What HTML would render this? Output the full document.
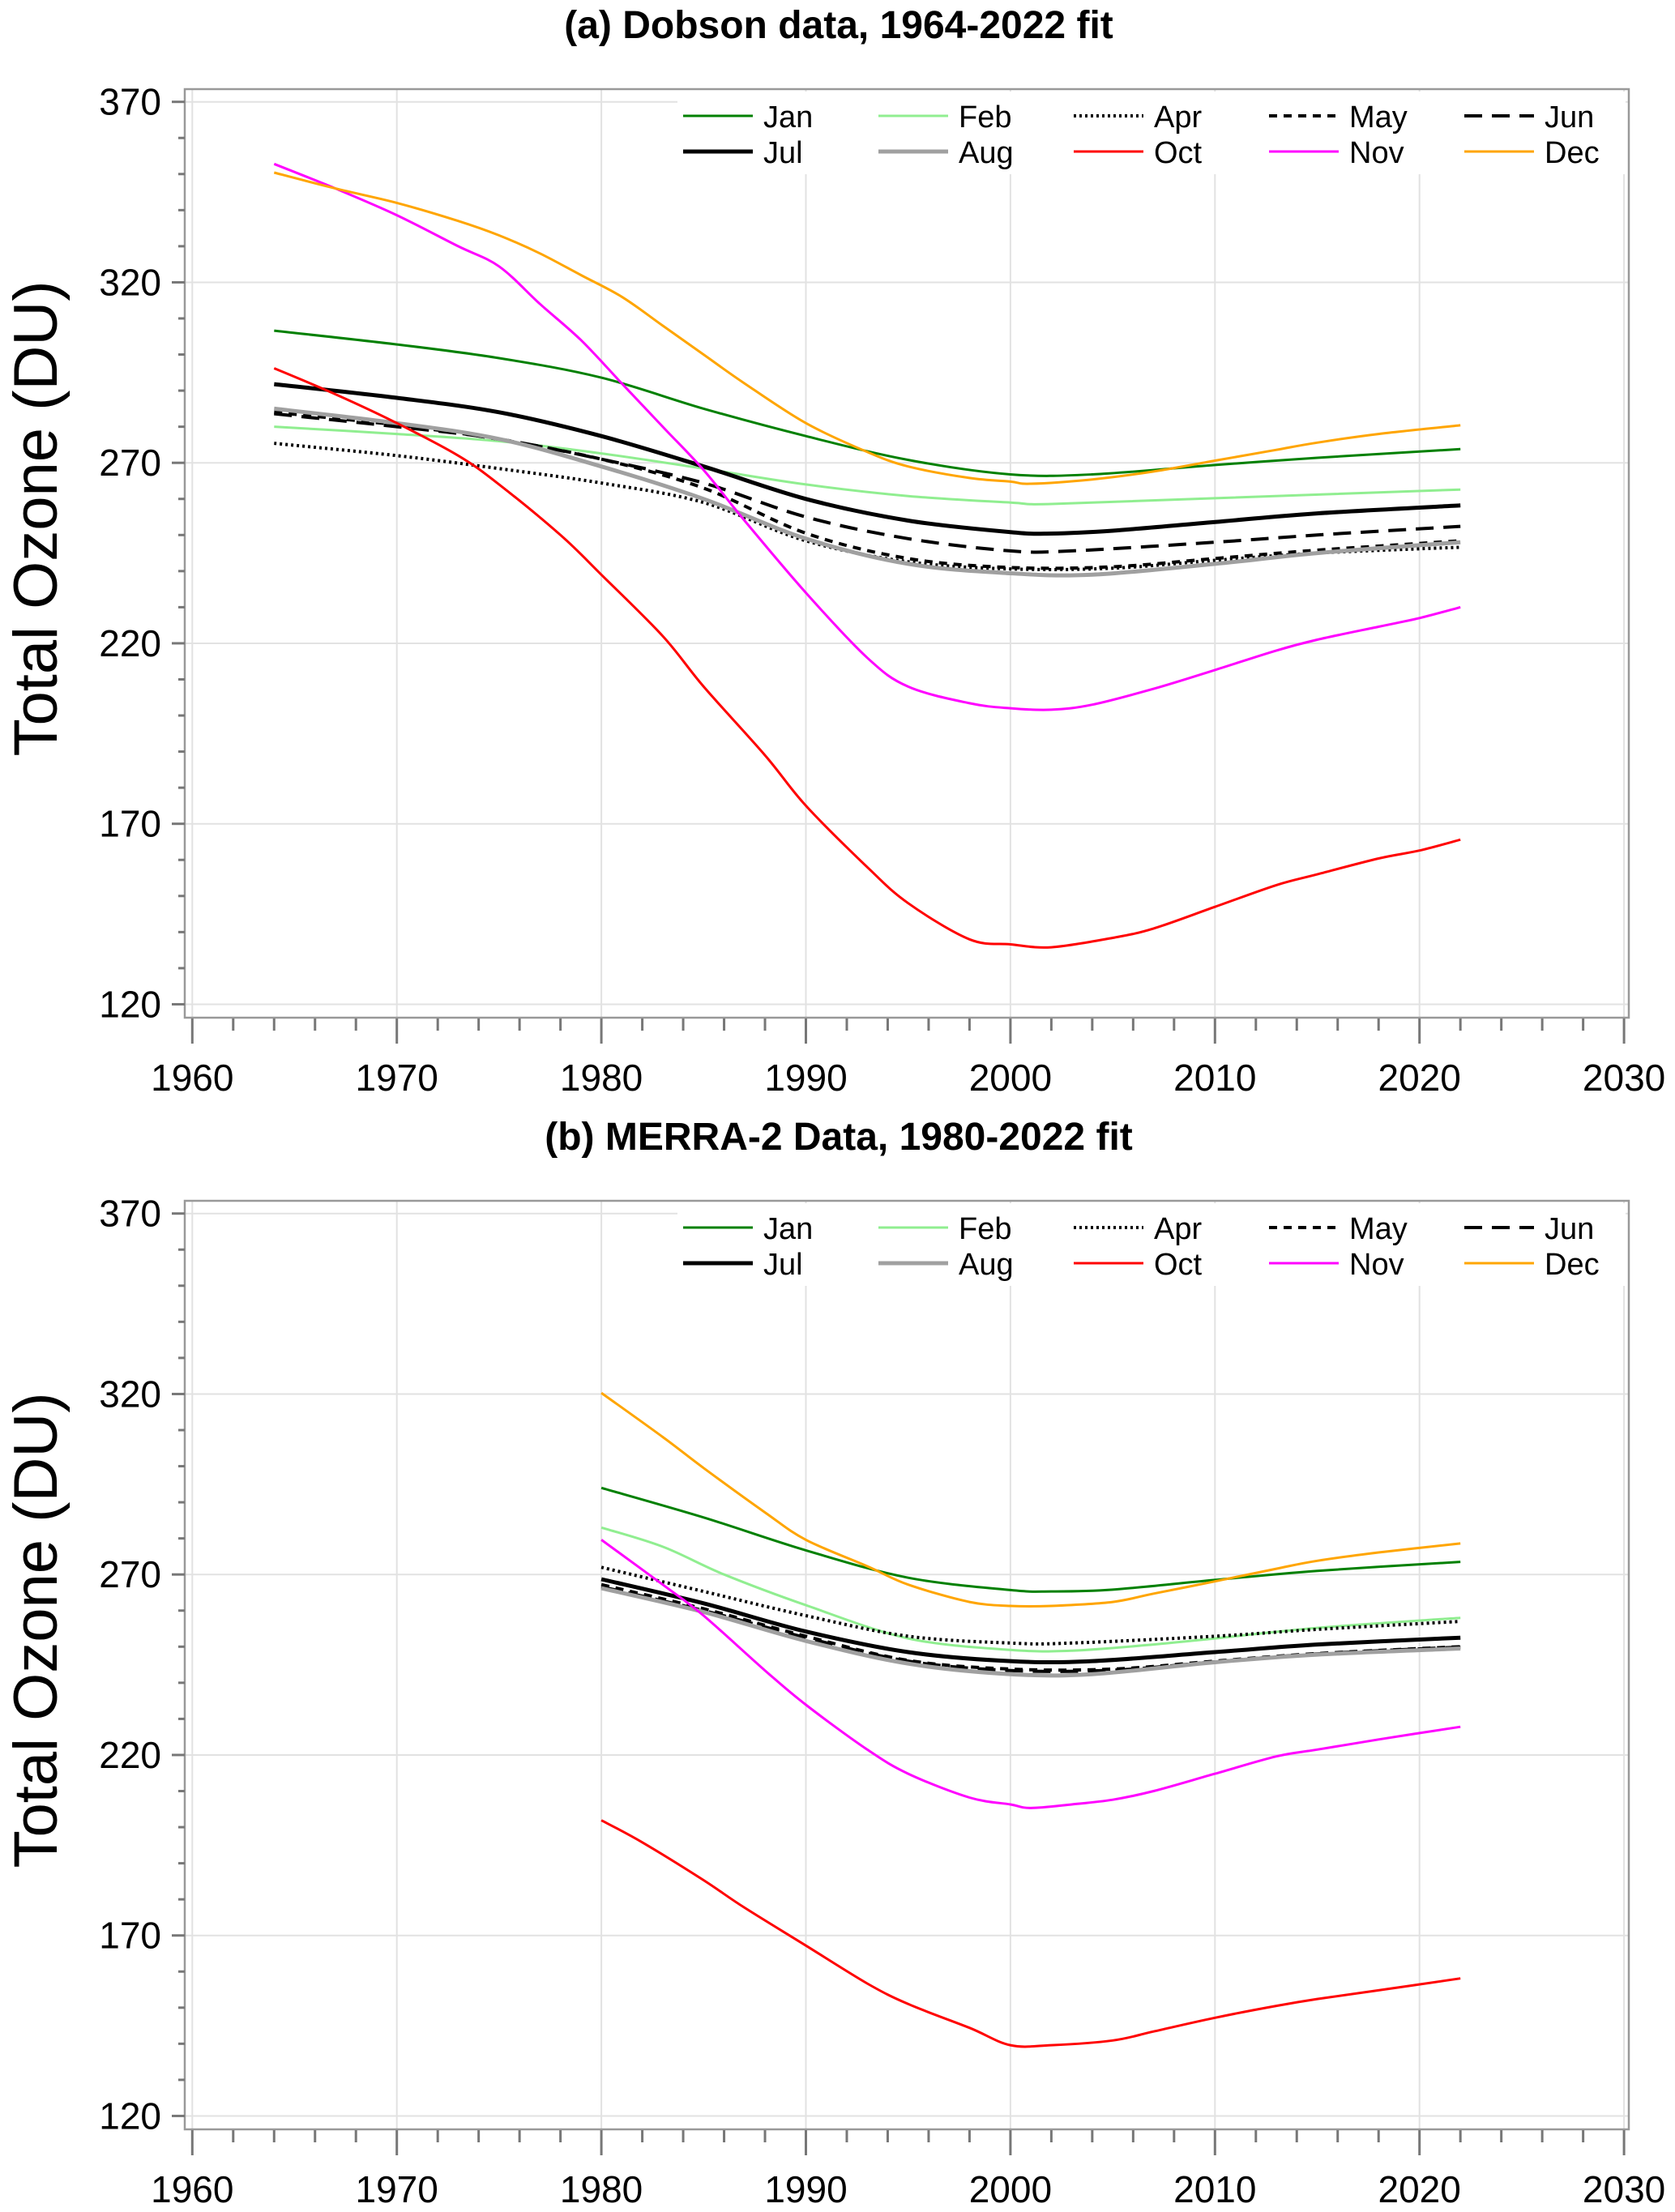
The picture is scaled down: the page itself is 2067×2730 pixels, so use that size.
<!DOCTYPE html>
<html><head><meta charset="utf-8"><style>
html,body{margin:0;padding:0;background:#fff;}
svg{display:block;font-family:"Liberation Sans",Arial,sans-serif;}
</style></head><body>
<svg id="chart" width="2067" height="2730" viewBox="0 0 2067 2730" xmlns="http://www.w3.org/2000/svg"></svg>
<script>
const months = ["Jan","Feb","Apr","May","Jun","Jul","Aug","Oct","Nov","Dec"];
const xTicks = [1960,1970,1980,1990,2000,2010,2020,2030];
const yTicks = [120,170,220,270,320,370];
const panelTitles = ["(a) Dobson data, 1964-2022 fit","(b) MERRA-2 Data, 1980-2022 fit"];

const aYears = {
 Jan:[1964,1970,1975,1980,1985,1990,1995,2000,2004,2010,2015,2022],
 Feb:[1964,1970,1975,1980,1985,1990,1995,2000,2002,2010,2022],
 Apr:[1964,1970,1975,1980,1985,1990,1995,2000,2005,2010,2015,2022],
 May:[1964,1970,1975,1980,1985,1990,1995,2000,2005,2010,2015,2022],
 Jun:[1964,1970,1975,1980,1985,1990,1995,2000,2003,2010,2015,2022],
 Jul:[1964,1970,1975,1980,1985,1990,1995,2000,2002,2005,2010,2015,2022],
 Aug:[1964,1970,1975,1980,1985,1990,1995,2000,2004,2010,2015,2022],
 Oct:[1964,1967,1970,1973,1975,1978,1980,1983,1985,1988,1990,1993,1995,1998,2000,2002,2005,2007,2010,2013,2015,2018,2020,2022],
 Nov:[1964,1967,1970,1973,1975,1977,1979,1981,1983,1985,1987,1990,1993,1995,1998,2000,2002,2004,2007,2010,2013,2015,2018,2020,2022],
 Dec:[1964,1967,1970,1973,1975,1977,1979,1981,1983,1985,1987,1990,1993,1995,1998,2000,2001,2004,2007,2010,2013,2015,2018,2022]
};
const aVals = {
 Jan:[306.6,302.8,299,293.6,285,277.4,270.8,266.8,266.8,269.4,271.4,273.8],
 Feb:[280,278,276,272.6,268.4,264,260.8,259,258.6,260.2,262.6],
 Apr:[275.4,272,268.4,264.4,259,248.4,242.6,240.6,240.8,243,245,246.6],
 May:[284,280.5,276.5,271,263,250.5,243.5,241,241.2,243.5,245.8,248.4],
 Jun:[283.6,280,276.6,271,264.4,255,249,245.6,245.6,248,250,252.4],
 Jul:[291.8,288,284,277.4,269,260,254,250.8,250.4,251.2,253.6,256,258.2],
 Aug:[285,281,276.6,269,260,249,242,239.4,239,242,245,248],
 Oct:[296.2,289,281,272,264,250,239,222,208,189,175,158,148,138,136.6,135.8,138.4,141,147,153,156,160.4,162.6,165.6],
 Nov:[352.8,346,338.6,330,324.4,314,304,292,280,268,254,234,216,208,203.4,202,201.6,203,207.4,212.6,218,221,224.6,227,230],
 Dec:[350.4,346,342,337,333,328,322,316,308,300,292,281,273,269,265.8,264.8,264.2,265.4,267.6,270.6,273.6,275.6,278,280.4]
};
const bYears = {
 Jan:[1980,1985,1990,1995,2000,2002,2005,2010,2015,2022],
 Feb:[1980,1983,1986,1990,1995,2000,2003,2007,2010,2015,2022],
 Apr:[1980,1985,1990,1995,2000,2003,2010,2015,2022],
 May:[1980,1985,1990,1995,2000,2005,2010,2015,2022],
 Jun:[1980,1985,1990,1995,2000,2005,2010,2015,2022],
 Jul:[1980,1985,1990,1995,2000,2004,2010,2015,2022],
 Aug:[1980,1985,1990,1995,2000,2004,2010,2015,2022],
 Oct:[1980,1982,1985,1987,1990,1993,1995,1998,2000,2002,2005,2007,2010,2013,2015,2018,2022],
 Nov:[1980,1983,1985,1988,1990,1993,1995,1998,2000,2001,2003,2005,2007,2010,2013,2015,2018,2022],
 Dec:[1980,1983,1985,1988,1990,1993,1995,1998,2000,2002,2005,2007,2010,2013,2015,2018,2022]
};
const bVals = {
 Jan:[294,285.8,276.7,269.1,265.7,265.3,265.8,268.5,271,273.5],
 Feb:[283,277.7,270,261.5,252.3,249.1,248.9,250.6,252.3,255.2,258],
 Apr:[272,265.3,258.6,252.9,251,251,252.9,254.8,257],
 May:[267.2,260.5,252.9,246.2,243.8,243.8,246,248.1,250],
 Jun:[266.6,260,252.5,246,243.4,243.5,245.8,248,249.9],
 Jul:[268.7,262,254.2,248.5,246,246,248.5,250.6,252.5],
 Aug:[266.2,259.6,251.6,245.3,242.4,242.4,245.7,247.8,249.5],
 Oct:[201.9,195.8,185.3,177.7,167.2,156.7,151,144.4,139.6,139.6,140.9,143.4,147.2,150.5,152.4,154.8,158.1],
 Nov:[279.6,267.2,258.6,243.4,233.9,221.5,214.8,208.2,206.3,205.3,206.3,207.6,210,214.8,219.6,221.5,224.3,227.8],
 Dec:[320.3,308.1,299.5,287.2,279.6,272.3,267.2,262.4,261.3,261.3,262.4,264.7,268.1,271.6,273.8,276.1,278.6]
};

const styles = {
 Jan:{c:"#008000",w:3,d:null}, Feb:{c:"#90ee90",w:3,d:null},
 Apr:{c:"#000",w:4,d:"3 4"}, May:{c:"#000",w:4,d:"10 8"}, Jun:{c:"#000",w:4,d:"22 12"},
 Jul:{c:"#000",w:5,d:null}, Aug:{c:"#a0a0a0",w:5,d:null},
 Oct:{c:"#ff0000",w:3,d:null}, Nov:{c:"#ff00ff",w:3,d:null}, Dec:{c:"#ffa500",w:3,d:null}
};
const legendOrder = ["Jan","Feb","Apr","May","Jun","Jul","Aug","Oct","Nov","Dec"];
const drawOrder = ["Feb","Jan","Apr","May","Jun","Aug","Jul","Oct","Nov","Dec"];

const NS="http://www.w3.org/2000/svg";
const svg=document.getElementById("chart");
function el(tag,attrs,parent,text){const e=document.createElementNS(NS,tag);for(const k in attrs)e.setAttribute(k,attrs[k]);if(text!==undefined)e.textContent=text;(parent||svg).appendChild(e);return e;}

const X0=237.3, XS=25.24;
function xs(yr){return X0+(yr-1960)*XS;}
function makeY(off){return v=>125.7+off+(370-v)*4.455;}

function smoothPath(p){
 let d="M"+p[0][0].toFixed(1)+","+p[0][1].toFixed(1);
 for(let i=0;i<p.length-1;i++){
  const p0=p[Math.max(0,i-1)],p1=p[i],p2=p[i+1],p3=p[Math.min(p.length-1,i+2)];
  const c1x=p1[0]+(p2[0]-p0[0])/6,c1y=p1[1]+(p2[1]-p0[1])/6;
  const c2x=p2[0]-(p3[0]-p1[0])/6,c2y=p2[1]-(p3[1]-p1[1])/6;
  d+=` C${c1x.toFixed(1)},${c1y.toFixed(1)} ${c2x.toFixed(1)},${c2y.toFixed(1)} ${p2[0].toFixed(1)},${p2[1].toFixed(1)}`;
 }
 return d;
}

function panel(idx,off,years,vals){
 const ys=makeY(off);
 const g=el("g",{});
 
 
 const t=el("text",{x:1035,y:off+47,"text-anchor":"middle","font-size":48,"font-weight":"bold"},g,panelTitles[idx]);
 
 
 xTicks.forEach(v=>{const l=el("line",{x1:xs(v),x2:xs(v),y1:off+110,y2:off+1256,stroke:"#e2e2e2","stroke-width":2},g);
  });
 yTicks.forEach(v=>{const l=el("line",{x1:228,x2:2010,y1:ys(v),y2:ys(v),stroke:"#e2e2e2","stroke-width":2},g);
  });
 const f=el("rect",{x:228,y:off+110,width:1782,height:1146,fill:"none",stroke:"#999","stroke-width":2.5},g);
 
 for(let yr=1960;yr<=2030;yr+=2){const maj=yr%10===0;
  const l=el("line",{x1:xs(yr),x2:xs(yr),y1:off+1257,y2:off+(maj?1288:1272),stroke:"#777","stroke-width":3},g);
  }
 xTicks.forEach(v=>{const t=el("text",{x:xs(v),y:off+1346,"text-anchor":"middle","font-size":46},g,String(v));
  });
 for(let v=120;v<=370;v+=10){const maj=(v-120)%50===0;
  const l=el("line",{x1:maj?212:220,x2:228,y1:ys(v),y2:ys(v),stroke:"#777","stroke-width":3},g);
  }
 yTicks.forEach(v=>{const t=el("text",{x:199,y:ys(v)+16,"text-anchor":"end","font-size":46},g,String(v));
  });
 const yl=el("text",{x:0,y:0,"text-anchor":"middle","font-size":76,transform:`translate(70,${off+640}) rotate(-90)`},g,"Total Ozone (DU)");
 
 drawOrder.forEach(m=>{const s=styles[m];
  const pts=years[m].map((yr,i)=>[xs(yr),ys(vals[m][i])]);
  const a={d:smoothPath(pts),fill:"none",stroke:s.c,"stroke-width":s.w,"stroke-linejoin":"round"};
  if(s.d)a["stroke-dasharray"]=s.d;
  const p=el("path",a,g);
  
  });
 const lg=el("g",{},g);
 
 
 el("rect",{x:836,y:off+113,width:1170,height:102,fill:"#fff"},lg);
 legendOrder.forEach((m,i)=>{const col=i%5,row=Math.floor(i/5);const s=styles[m];
  const lx=843+col*241, ly=off+143+row*44;
  const e=el("g",{},lg);
  
  
  const a={x1:lx,x2:lx+86,y1:ly,y2:ly,stroke:s.c,"stroke-width":s.w};
  if(s.d)a["stroke-dasharray"]=s.d;
  el("line",a,e);
  el("text",{x:lx+99,y:ly+14,"font-size":38},e,m);});
}
panel(0,0,aYears,aVals);
panel(1,1372,bYears,bVals);
</script>
</body></html>
